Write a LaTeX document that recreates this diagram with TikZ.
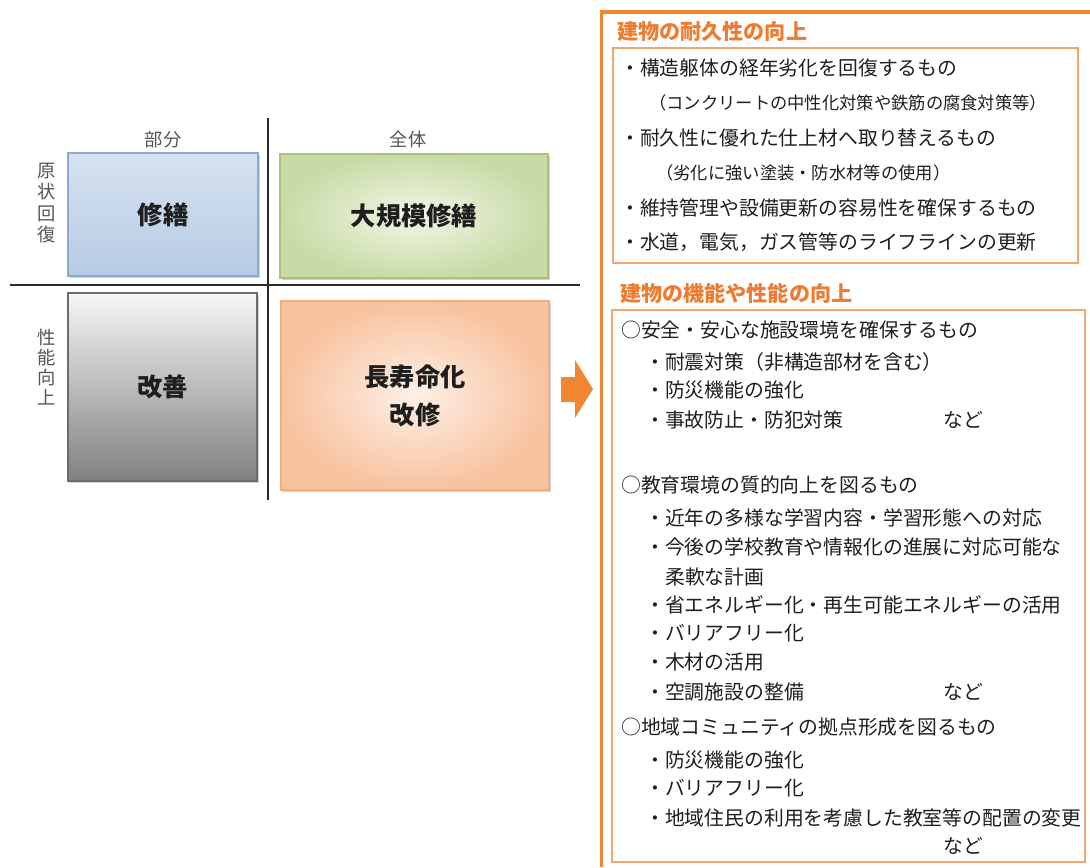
\documentclass[tikz,border=0pt]{standalone}
\usepackage{fontspec}
\setmainfont{Noto Sans CJK JP}
\usetikzlibrary{shadows}
\definecolor{ink}{HTML}{1E1E1E}
\definecolor{lab}{HTML}{555555}
\definecolor{axis}{HTML}{2A2A2A}
\definecolor{frame}{HTML}{F08634}
\definecolor{head}{HTML}{EE7B2F}
\definecolor{boxline}{HTML}{F2A56C}
\definecolor{repairtop}{HTML}{D6E2F1}
\definecolor{repairbot}{HTML}{B7CBE4}
\definecolor{repairline}{HTML}{8EA9CF}
\definecolor{largein}{HTML}{F1F6E6}
\definecolor{largeout}{HTML}{C8DBA6}
\definecolor{largeline}{HTML}{A8C27C}
\definecolor{improvetop}{HTML}{F6F6F6}
\definecolor{improvebot}{HTML}{808080}
\definecolor{improveline}{HTML}{6C6C6C}
\definecolor{longin}{HTML}{FDF0E6}
\definecolor{longout}{HTML}{F8C29E}
\definecolor{longline}{HTML}{F3AE80}
\tikzset{
  every node/.style = {text=ink, inner sep=0pt},
  qlab/.style    = {font=\fontsize{13}{15}\selectfont, text=lab, align=center},
  qbase/.style   = {draw, line width=0.8pt, align=center,
                    font=\bfseries\fontsize{18}{27}\selectfont,
                    drop shadow={shadow xshift=1.2pt, shadow yshift=-1.2pt, opacity=0.35}},
  qrepair/.style = {qbase, draw=repairline, top color=repairtop, bottom color=repairbot},
  qlarge/.style  = {qbase, draw=largeline, inner color=largein, outer color=largeout},
  qimprove/.style= {qbase, draw=improveline, top color=improvetop, bottom color=improvebot},
  qlong/.style   = {qbase, draw=longline, inner color=longin, outer color=longout},
  axisline/.style= {draw=axis, line width=1.1pt},
  outerframe/.style = {draw=frame, line width=2.2pt},
  panel/.style   = {draw=boxline, line width=0.9pt},
  phead/.style   = {font=\bfseries\fontsize{15}{18}\selectfont, text=head, anchor=west},
  pdura/.style   = {font=\fontsize{14.1}{17}\selectfont, anchor=west},
  pfunc/.style   = {font=\fontsize{14.1}{17}\selectfont, anchor=west},
  psub/.style    = {font=\fontsize{12.3}{14}\selectfont, anchor=west},
  goarrow/.style = {fill=frame},
}

\begin{document}
\begin{tikzpicture}[x=0.025cm, y=-0.025cm]
\useasboundingbox (0,0) rectangle (1090,867);

% matrix of the four kinds of work
\draw[axisline] (268,118) -- (268,500);
\draw[axisline] (10,285) -- (580,285);

\node[qlab] (part)  at (163,140) {部分};
\node[qlab] (whole) at (408,140) {全体};
\node[qlab, font=\fontsize{13}{15.2}\selectfont] (restore) at (47,203) {原\\状\\回\\復};
\node[qlab, font=\fontsize{13}{14.4}\selectfont] (perform) at (47,367) {性\\能\\向\\上};

\node[qrepair,  minimum width=4.75cm, minimum height=3.075cm] (repair)  at (163,214.5) {修繕};
\node[qlarge,   minimum width=6.7cm,  minimum height=3.1cm]   (large)   at (414,216)   {大規模修繕};
\node[qimprove, minimum width=4.725cm,minimum height=4.7cm]   (improve) at (162.5,387) {改善};
\node[qlong,    minimum width=6.7cm,  minimum height=4.725cm] (long)    at (415,395.5) {長寿命化\\改修};

\fill[goarrow] (561,377) -- (575,377) -- (575,360) -- (593,389)
  -- (575,418) -- (575,402) -- (561,402) -- cycle;

% right hand panel
\draw[outerframe] (1090,12) -- (601.5,12) -- (601.5,867);

\node[phead] (durahead) at (617,32) {建物の耐久性の向上};
\draw[panel] (613,48) rectangle (1078,263);
\foreach \yy/\txt [count=\i] in {68/・構造躯体の経年劣化を回復するもの,
    138/・耐久性に優れた仕上材へ取り替えるもの,
    208/・維持管理や設備更新の容易性を確保するもの,
    242/・水道，電気，ガス管等のライフラインの更新}
  {\node[pdura] (dura\i) at (620,\yy) {\txt};}
\node[psub] (durasub1) at (649,103) {（コンクリートの中性化対策や鉄筋の腐食対策等）};
\node[psub] (durasub2) at (656,173) {（劣化に強い塗装・防水材等の使用）};

\node[phead] (funchead) at (620,293) {建物の機能や性能の向上};
\draw[panel] (612,310) rectangle (1085,862);
\foreach \yy/\txt [count=\i] in {330/○安全・安心な施設環境を確保するもの,
    485/○教育環境の質的向上を図るもの,
    727/○地域コミュニティの拠点形成を図るもの}
  {\node[pfunc] (goal\i) at (621,\yy) {\txt};}
\foreach \yy/\txt [count=\i] in {362/・耐震対策（非構造部材を含む）,
    390/・防災機能の強化,
    420/・事故防止・防犯対策,
    518/・近年の多様な学習内容・学習形態への対応,
    547/・今後の学校教育や情報化の進展に対応可能な,
    605/・省エネルギー化・再生可能エネルギーの活用,
    633/・バリアフリー化,
    662/・木材の活用,
    692/・空調施設の整備,
    760/・防災機能の強化,
    788/・バリアフリー化,
    818/・地域住民の利用を考慮した教室等の配置の変更}
  {\node[pfunc] (item\i) at (645,\yy) {\txt};}
\node[pfunc] (itemcont) at (665,577) {柔軟な計画};
\foreach \yy [count=\i] in {420, 692, 846}
  {\node[pfunc] (etc\i) at (943,\yy) {など};}
\end{tikzpicture}
\end{document}
